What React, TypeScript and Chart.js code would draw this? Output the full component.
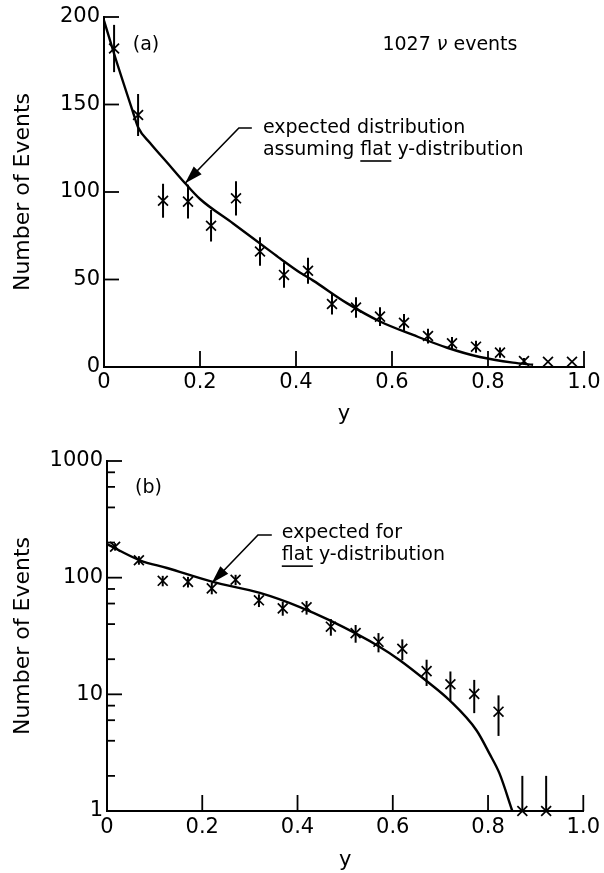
import React, { useEffect, useRef } from "react";
import { Chart, registerables } from "chart.js";

Chart.register(...registerables);

const FONT = "'DejaVu Sans', sans-serif";

// ---------------- axes ----------------
const xTickValues = [0, 0.2, 0.4, 0.6, 0.8, 1.0];
const xTickLabels = ["0", "0.2", "0.4", "0.6", "0.8", "1.0"];
const xInnerTicks = [0.2, 0.4, 0.6, 0.8, 1.0];

const yTickValuesA = [0, 50, 100, 150, 200];
const yTickLabelsA = ["0", "50", "100", "150", "200"];
const yInnerTicksA = [50, 100, 150, 200];

const yTickValuesB = [1, 10, 100, 1000];
const yTickLabelsB = ["1", "10", "100", "1000"];
const yInnerTicksB = [10, 100, 1000];
const yMinorTicksB = [2, 4, 6, 8, 20, 40, 60, 80, 200, 400, 600, 800];

// ---------------- panel (a): linear ----------------
const binsA = [0.021, 0.071, 0.123, 0.175, 0.223, 0.275, 0.325, 0.375, 0.425, 0.475, 0.525, 0.575, 0.625, 0.675, 0.725, 0.775, 0.825, 0.875, 0.925, 0.975];
const countsA = [182, 144, 95, 94.5, 80.7, 96.4, 66, 52.6, 55, 36, 34, 28.8, 25.3, 17.7, 13.5, 11.6, 8.2, 3.4, 3, 3];
const errorsA = [13.5, 12, 9.7, 9.7, 9, 9.8, 8.1, 7.3, 7.4, 6, 5.8, 5.4, 5, 4.2, 3.7, 3.4, 2.9, 1.8, 0, 0];
const curveXA = [0, 0.021, 0.06, 0.071, 0.096, 0.131, 0.169, 0.2, 0.269, 0.34, 0.367, 0.408, 0.435, 0.506, 0.575, 0.644, 0.715, 0.783, 0.852, 0.894];
const curveYA = [198, 179, 146, 137, 128, 117, 105, 96, 82, 67.5, 62, 54, 49.5, 36.5, 26, 18.3, 11, 5.7, 2.5, 1.3];

// ---------------- panel (b): logarithmic ----------------
const binsB = [0.017, 0.067, 0.117, 0.17, 0.22, 0.27, 0.319, 0.369, 0.419, 0.47, 0.522, 0.57, 0.62, 0.671, 0.721, 0.771, 0.822, 0.872, 0.922];
const countsB = [184, 141, 94, 92, 81, 96, 64, 54.6, 55.7, 38, 33.5, 28.2, 24.6, 15.8, 12.2, 10.1, 7.1, 1, 1];
const errorsB = [13.6, 11.9, 9.7, 9.6, 9, 9.8, 8, 7.4, 7.5, 6.2, 5.8, 5.3, 5, 4, 3.5, 3.2, 2.7, 1, 1];
const curveXB = [0, 0.069, 0.126, 0.222, 0.321, 0.405, 0.468, 0.572, 0.614, 0.671, 0.719, 0.776, 0.803, 0.824, 0.851];
const curveYB = [194, 141, 121, 92, 74, 56, 43, 25.6, 19.7, 13, 8.9, 4.9, 3.1, 2.1, 1.0];

type Panel = "a" | "b";

function drawArrow(ctx: CanvasRenderingContext2D, pts: number[][]) {
  ctx.beginPath();
  ctx.moveTo(pts[0][0], pts[0][1]);
  for (let i = 1; i < pts.length; i++) ctx.lineTo(pts[i][0], pts[i][1]);
  ctx.stroke();
  const [tx, ty] = pts[pts.length - 1];
  const [sx, sy] = pts[pts.length - 2];
  const ang = Math.atan2(ty - sy, tx - sx);
  const L = 18, W = 5.5;
  const bx = tx - L * Math.cos(ang), by = ty - L * Math.sin(ang);
  ctx.beginPath();
  ctx.moveTo(tx, ty);
  ctx.lineTo(bx + W * Math.sin(ang), by - W * Math.cos(ang));
  ctx.lineTo(bx - W * Math.sin(ang), by + W * Math.cos(ang));
  ctx.closePath();
  ctx.fill();
}

function overlay(panel: Panel) {
  return {
    id: "overlay" + panel,
    afterDatasetsDraw(chart: any) {
      const { ctx, chartArea, scales } = chart;
      const xs = scales.x, ys = scales.y;
      const px = (v: number) => xs.getPixelForValue(v);
      const py = (v: number) => ys.getPixelForValue(v);
      const isA = panel === "a";
      ctx.save();
      ctx.strokeStyle = "#000";
      ctx.fillStyle = "#000";
      ctx.lineCap = "butt";

      // error bars
      const bins = isA ? binsA : binsB;
      const counts = isA ? countsA : countsB;
      const errs = isA ? errorsA : errorsB;
      ctx.lineWidth = 2;
      for (let i = 0; i < bins.length; i++) {
        if (!errs[i]) continue;
        const lo = Math.max(counts[i] - errs[i], ys.min);
        const hi = counts[i] + errs[i];
        ctx.beginPath();
        ctx.moveTo(px(bins[i]), py(lo));
        ctx.lineTo(px(bins[i]), py(hi));
        ctx.stroke();
      }

      // inward tick marks
      ctx.lineWidth = 1.8;
      const bottom = chartArea.bottom, left = chartArea.left;
      for (const v of xInnerTicks) {
        ctx.beginPath();
        ctx.moveTo(px(v), bottom);
        ctx.lineTo(px(v), bottom - 16);
        ctx.stroke();
      }
      const yMajor = isA ? yInnerTicksA : yInnerTicksB;
      for (const v of yMajor) {
        ctx.beginPath();
        ctx.moveTo(left, py(v));
        ctx.lineTo(left + 15, py(v));
        ctx.stroke();
      }
      if (!isA) {
        for (const v of yMinorTicksB) {
          ctx.beginPath();
          ctx.moveTo(left, py(v));
          ctx.lineTo(left + 8, py(v));
          ctx.stroke();
        }
      }

      // annotations
      ctx.textBaseline = "middle";
      ctx.textAlign = "left";
      const normal = `19px ${FONT}`;
      ctx.font = normal;
      const underline = (x: number, y: number, prefix: string, word: string) => {
        const x0 = x + ctx.measureText(prefix).width;
        const w = ctx.measureText(word).width;
        ctx.lineWidth = 1.6;
        ctx.beginPath();
        ctx.moveTo(x0, y + 11);
        ctx.lineTo(x0 + w, y + 11);
        ctx.stroke();
      };
      if (isA) {
        ctx.fillText("(a)", px(0.06), py(184));
        let x = px(0.58);
        const y = py(184);
        ctx.fillText("1027 ", x, y);
        x += ctx.measureText("1027 ").width;
        ctx.font = `italic 19px ${FONT}`;
        ctx.fillText("\u03BD", x, y);
        x += ctx.measureText("\u03BD").width;
        ctx.font = normal;
        ctx.fillText(" events", x, y);

        const tx = px(0.331);
        ctx.fillText("expected distribution", tx, py(136.6));
        ctx.fillText("assuming flat y-distribution", tx, py(124));
        underline(tx, py(124), "assuming ", "flat");
        ctx.lineWidth = 1.6;
        drawArrow(ctx, [[px(0.308), py(136.6)], [px(0.281), py(136.6)], [px(0.169), py(105)]]);
      } else {
        ctx.fillText("(b)", px(0.059), py(586));
        const tx = px(0.367);
        ctx.fillText("expected for", tx, py(241));
        ctx.fillText("flat y-distribution", tx, py(156));
        underline(tx, py(156), "", "flat");
        ctx.lineWidth = 1.6;
        drawArrow(ctx, [[px(0.346), py(232)], [px(0.317), py(232)], [px(0.22), py(90)]]);
      }
      ctx.restore();
    },
  };
}

function buildConfig(panel: Panel): any {
  const isA = panel === "a";
  const curveX = isA ? curveXA : curveXB;
  const curveY = isA ? curveYA : curveYB;
  const bins = isA ? binsA : binsB;
  const counts = isA ? countsA : countsB;
  const yVals = isA ? yTickValuesA : yTickValuesB;
  const yLabels = isA ? yTickLabelsA : yTickLabelsB;
  const tickFont = { family: FONT, size: 21 };
  return {
    type: "scatter",
    data: {
      datasets: [
        {
          type: "line",
          data: curveX.map((x, i) => ({ x, y: curveY[i] })),
          borderColor: "#000",
          borderWidth: 2.4,
          pointRadius: 0,
          fill: false,
          cubicInterpolationMode: "monotone",
          clip: false,
          order: 2,
        },
        {
          type: "scatter",
          data: bins.map((x, i) => ({ x, y: counts[i] })),
          pointStyle: "crossRot",
          pointRadius: 7,
          borderColor: "#000",
          backgroundColor: "#000",
          borderWidth: 1.7,
          clip: false,
          order: 1,
        },
      ],
    },
    options: {
      animation: false,
      responsive: false,
      maintainAspectRatio: false,
      devicePixelRatio: 1,
      layout: { padding: { left: 0, right: 20, top: isA ? 17 : 25, bottom: 0 } },
      plugins: { legend: { display: false }, tooltip: { enabled: false } },
      scales: {
        x: {
          type: "linear",
          min: 0,
          max: 1,
          afterBuildTicks: (s: any) => {
            s.ticks = xTickValues.map((v) => ({ value: v }));
          },
          afterFit: (s: any) => {
            s.height = isA ? 69 : 62;
          },
          ticks: {
            autoSkip: false,
            maxRotation: 0,
            color: "#000",
            font: tickFont,
            padding: isA ? 3 : 4,
            callback: (_v: any, i: number) => xTickLabels[i],
          },
          grid: { display: false, drawTicks: false, tickLength: 0 },
          border: { display: true, color: "#000", width: 2 },
          title: {
            display: true,
            text: "y",
            color: "#000",
            font: { family: FONT, size: 21 },
            padding: { top: 0, bottom: isA ? 9 : 0 },
          },
        },
        y: {
          type: isA ? "linear" : "logarithmic",
          min: isA ? 0 : 1,
          max: isA ? 200 : 1000,
          afterBuildTicks: (s: any) => {
            s.ticks = yVals.map((v) => ({ value: v }));
          },
          afterFit: (s: any) => {
            s.width = isA ? 104 : 107;
          },
          ticks: {
            autoSkip: false,
            color: "#000",
            font: tickFont,
            padding: 4,
            callback: (_v: any, i: number) => yLabels[i],
          },
          grid: { display: false, drawTicks: false, tickLength: 0 },
          border: { display: true, color: "#000", width: 2 },
          title: {
            display: true,
            text: "Number of Events",
            color: "#000",
            font: { family: FONT, size: 22 },
            padding: { top: 10, bottom: 0 },
          },
        },
      },
    },
    plugins: [overlay(panel)],
  };
}

function PanelChart({ panel, top, height }: { panel: Panel; top: number; height: number }) {
  const ref = useRef<HTMLCanvasElement | null>(null);
  useEffect(() => {
    if (!ref.current) return;
    const chart = new Chart(ref.current, buildConfig(panel));
    return () => chart.destroy();
  }, [panel]);
  return (
    <canvas
      ref={ref}
      width={604}
      height={height}
      style={{ position: "absolute", left: 0, top, width: 604, height }}
    />
  );
}

export default function App() {
  return (
    <div style={{ position: "absolute", left: 0, top: 0, width: 604, height: 873, background: "#fff" }}>
      <PanelChart panel="a" top={0} height={436} />
      <PanelChart panel="b" top={436} height={437} />
    </div>
  );
}
